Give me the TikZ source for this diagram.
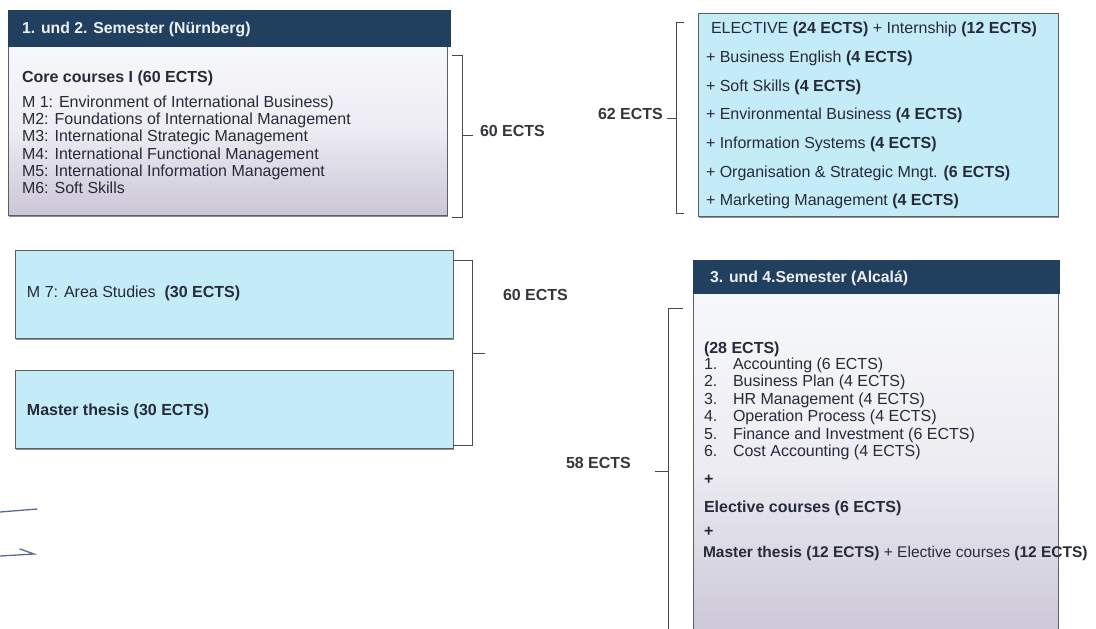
\documentclass[tikz,border=0pt]{standalone}
\usepackage{fontspec}
\setmainfont{Liberation Sans}
\usetikzlibrary{shadows}

\definecolor{navy}{HTML}{21405F}
\definecolor{hdrtext}{HTML}{EEF0F6}
\definecolor{cyanfill}{HTML}{C4ECF8}
\definecolor{bodytop}{HTML}{F7F8FB}
\definecolor{bodymid}{HTML}{ECECF2}
\definecolor{bodybot}{HTML}{CBC6D7}
\definecolor{edge}{HTML}{5E5F66}
\definecolor{ink}{HTML}{262A3A}
\definecolor{labelc}{HTML}{36363C}
\definecolor{bracec}{HTML}{4A4A4E}
\definecolor{pen}{HTML}{5C6A92}

\tikzset{
  txt/.style={anchor=base west, inner sep=0pt, outer sep=0pt, text=ink,
              font=\fontsize{16}{17.2}\selectfont},
  btxt/.style={txt, font=\fontsize{16}{17.2}\selectfont\bfseries},
  lbl/.style={txt, text=labelc, font=\fontsize{16}{17.2}\selectfont\bfseries},
  hdrtxt/.style={txt, text=hdrtext, font=\fontsize{15.8}{17.2}\selectfont\bfseries},
  boxbase/.style={rectangle, anchor=north west, inner sep=0pt, outer sep=0pt},
  hdrbox/.style={boxbase, fill=navy, draw=navy, line width=0.8pt},
  cyanbox/.style={boxbase, fill=cyanfill, draw=edge, line width=0.8pt,
                  drop shadow={shadow xshift=1.2pt, shadow yshift=-1.6pt,
                               opacity=0.8, fill=black!55}},
  gradbox/.style={boxbase, top color=bodytop, bottom color=bodybot,
                  middle color=bodymid, draw=edge, line width=0.8pt,
                  drop shadow={shadow xshift=1.2pt, shadow yshift=-1.6pt,
                               opacity=0.8, fill=black!55}},
  brace/.style={draw=bracec, line width=0.9pt},
  penline/.style={draw=pen, line width=1.3pt, line cap=round},
}

\begin{document}
\begin{tikzpicture}[x=1pt, y=-1pt]
\useasboundingbox[fill=white] (0,0) rectangle (1096,629);

% ---------- 1. und 2. Semester ----------
\node[gradbox, minimum width=439pt, minimum height=169pt] (n1body) at (8,46) {};
\node[hdrbox, minimum width=442pt, minimum height=36pt] (n1hdr) at (8,10) {};
\node[hdrtxt] (n1title) at (22,33.5) {1. und 2. Semester (Nürnberg)};
\node[btxt] (core) at (22,82.5) {Core courses I (60 ECTS)};
\foreach \t [count=\i from 0] in {
  {M 1: Environment of International Business)},
  {M2: Foundations of International Management},
  {M3: International Strategic Management},
  {M4: International Functional Management},
  {M5: International Information Management},
  {M6: Soft Skills}}
  \node[txt] (mod\i) at (22,107.5+17.2*\i) {\t};

\draw[brace] (452,55) -- (462,55) -- (462,217) -- (452,217);
\draw[brace] (462,135) -- (473,135);
\node[lbl] (ects1) at (480,136.5) {60 ECTS};

% ---------- electives ----------
\node[cyanbox, minimum width=360pt, minimum height=203pt] (elect) at (698,13) {};
\node[txt] (el0) at (711,34) {ELECTIVE \textbf{(24 ECTS)} + Internship \textbf{(12 ECTS)}};
\foreach \t [count=\i from 1] in {
  {+ Business English \textbf{(4 ECTS)}},
  {+ Soft Skills \textbf{(4 ECTS)}},
  {+ Environmental Business \textbf{(4 ECTS)}},
  {+ Information Systems \textbf{(4 ECTS)}},
  {+ Organisation \& Strategic Mngt. \textbf{(6 ECTS)}},
  {+ Marketing Management \textbf{(4 ECTS)}}}
  \node[txt] (el\i) at (706,34+28.6*\i) {\t};

\draw[brace] (684,22) -- (676,22) -- (676,213) -- (684,213);
\draw[brace] (676,118) -- (667,118);
\node[lbl] (ects2) at (598,119.5) {62 ECTS};

% ---------- area studies and thesis ----------
\node[cyanbox, minimum width=438pt, minimum height=88pt] (m7) at (15,250) {};
\node[txt] (m7t) at (27,297.5) {M 7: Area Studies\ \ \textbf{(30 ECTS)}};
\node[cyanbox, minimum width=438pt, minimum height=78pt] (thesis) at (15,370) {};
\node[btxt] (thesist) at (27,415.5) {Master thesis (30 ECTS)};

\draw[brace] (453,260) -- (472,260) -- (472,445) -- (453,445);
\draw[brace] (472,353) -- (485,353);
\node[lbl] (ects3) at (503,300.5) {60 ECTS};

% ---------- 3. und 4. Semester ----------
\node[gradbox, minimum width=365pt, minimum height=345pt] (n3body) at (693,293) {};
\node[hdrbox, minimum width=366pt, minimum height=33pt] (n3hdr) at (693,260) {};
\node[hdrtxt] (n3title) at (710,282.5) {3. und 4.Semester (Alcalá)};
\node[btxt] (c28) at (704,353) {(28 ECTS)};
\foreach \t [count=\i from 1] in {
  {Accounting (6 ECTS)},
  {Business Plan (4 ECTS)},
  {HR Management (4 ECTS)},
  {Operation Process (4 ECTS)},
  {Finance and Investment (6 ECTS)},
  {Cost Accounting (4 ECTS)}}
  {
  \node[txt] (num\i) at (704,352+17.4*\i) {\i.};
  \node[txt] (crs\i) at (733,352+17.4*\i) {\t};
  }
\node[btxt] (plus1) at (704,484) {+};
\node[btxt] (elc) at (704,512.5) {Elective courses (6 ECTS)};
\node[btxt] (plus2) at (704,536) {+};
\node[txt, font=\fontsize{15.5}{17.2}\selectfont] (last) at (703,557.5)
  {\textbf{Master thesis (12 ECTS)} + Elective courses \textbf{(12 ECTS)}};

\draw[brace] (683,308) -- (668,308) -- (668,640);
\draw[brace] (668,471) -- (655,471);
\node[lbl] (ects4) at (566,468.5) {58 ECTS};

% ---------- pen strokes at the left edge ----------
\coordinate (p1a) at (0,512);
\coordinate (p1b) at (37,509);
\coordinate (p2a) at (0,556);
\coordinate (p2b) at (34,554);
\coordinate (p2c) at (20,549);
\draw[penline] (p1a) -- (p1b);
\draw[penline] (p2a) -- (p2b) -- (p2c);
\end{tikzpicture}
\end{document}
